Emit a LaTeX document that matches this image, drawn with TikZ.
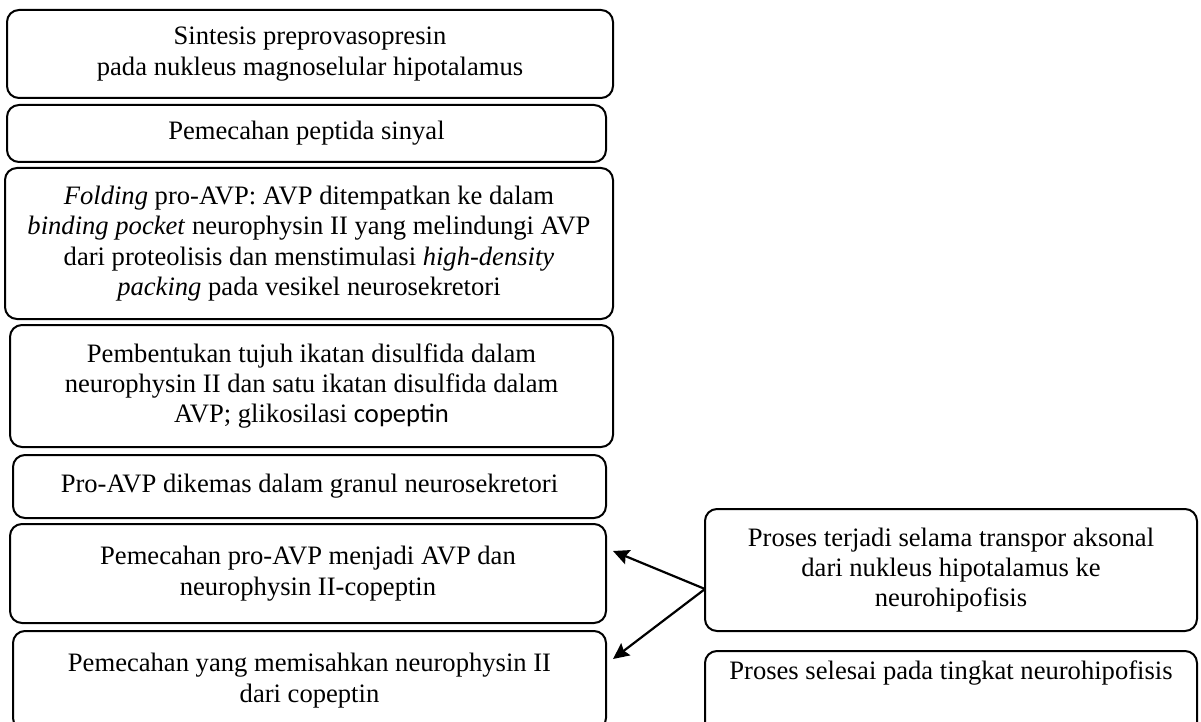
\documentclass[tikz,border=0pt]{standalone}
\usepackage{fontspec}
\setmainfont{Liberation Serif}
\newfontfamily\calibri{Carlito}
\usetikzlibrary{arrows.meta}
\begin{document}
\begin{tikzpicture}[x=0.5pt,y=-0.5pt,
  box/.style={draw, line width=1pt, rounded corners=6pt, align=center, inner sep=0pt, font=\fontsize{13.3}{15.2}\selectfont},
  txt/.style={align=center, inner sep=0pt, font=\fontsize{13.3}{15.2}\selectfont},
  arr/.style={line width=1.1pt, -{Stealth[length=8pt,width=7.5pt,inset=1.2pt]}}]
\clip (0,0) rectangle (1201,722);
\node[box, minimum width=303pt, minimum height=44pt] (b1) at (310,54)
  {Sintesis preprovasopresin\\pada nukleus magnoselular hipotalamus};
\node[box, minimum width=299.5pt, minimum height=28.5pt] (b2) at (306.5,133.5)
  {Pemecahan peptida sinyal};
\node[box, minimum width=304pt, minimum height=75.5pt] (b3) at (309,243.5)
  {\textit{Folding} pro-AVP: AVP ditempatkan ke dalam\\\textit{binding pocket} neurophysin II yang melindungi AVP\\dari proteolisis dan menstimulasi \textit{high-density}\\\textit{packing} pada vesikel neurosekretori};
\node[box, minimum width=301.5pt, minimum height=61pt] (b4) at (311.5,386)
  {Pembentukan tujuh ikatan disulfida dalam\\neurophysin II dan satu ikatan disulfida dalam\\AVP; glikosilasi {\calibri copeptin}};
\node[box, minimum width=296.5pt, minimum height=31.5pt] (b5) at (309.5,486.5)
  {Pro-AVP dikemas dalam granul neurosekretori};
\node[box, minimum width=298pt, minimum height=49.5pt] (b6) at (308,573.5)
  {Pemecahan pro-AVP menjadi AVP dan\\neurophysin II-copeptin};
\node[box, minimum width=296.5pt, minimum height=49.5pt] (b7) at (309.5,680.5)
  {Pemecahan yang memisahkan neurophysin II\\dari copeptin};
\node[box, minimum width=246pt, minimum height=61pt] (r1) at (951,570)
  {Proses terjadi selama transpor aksonal\\dari nukleus hipotalamus ke\\neurohipofisis};
\node[box, minimum width=246pt, minimum height=42pt] (r2) at (951,693) {};
\node[txt] (r2t) at (951,673) {Proses selesai pada tingkat neurohipofisis};
\coordinate (j) at (705,589);
\coordinate (t1) at (613,551);
\coordinate (t2) at (613,659);
\draw[arr] (j) -- (t1);
\draw[arr] (j) -- (t2);
\end{tikzpicture}
\end{document}
